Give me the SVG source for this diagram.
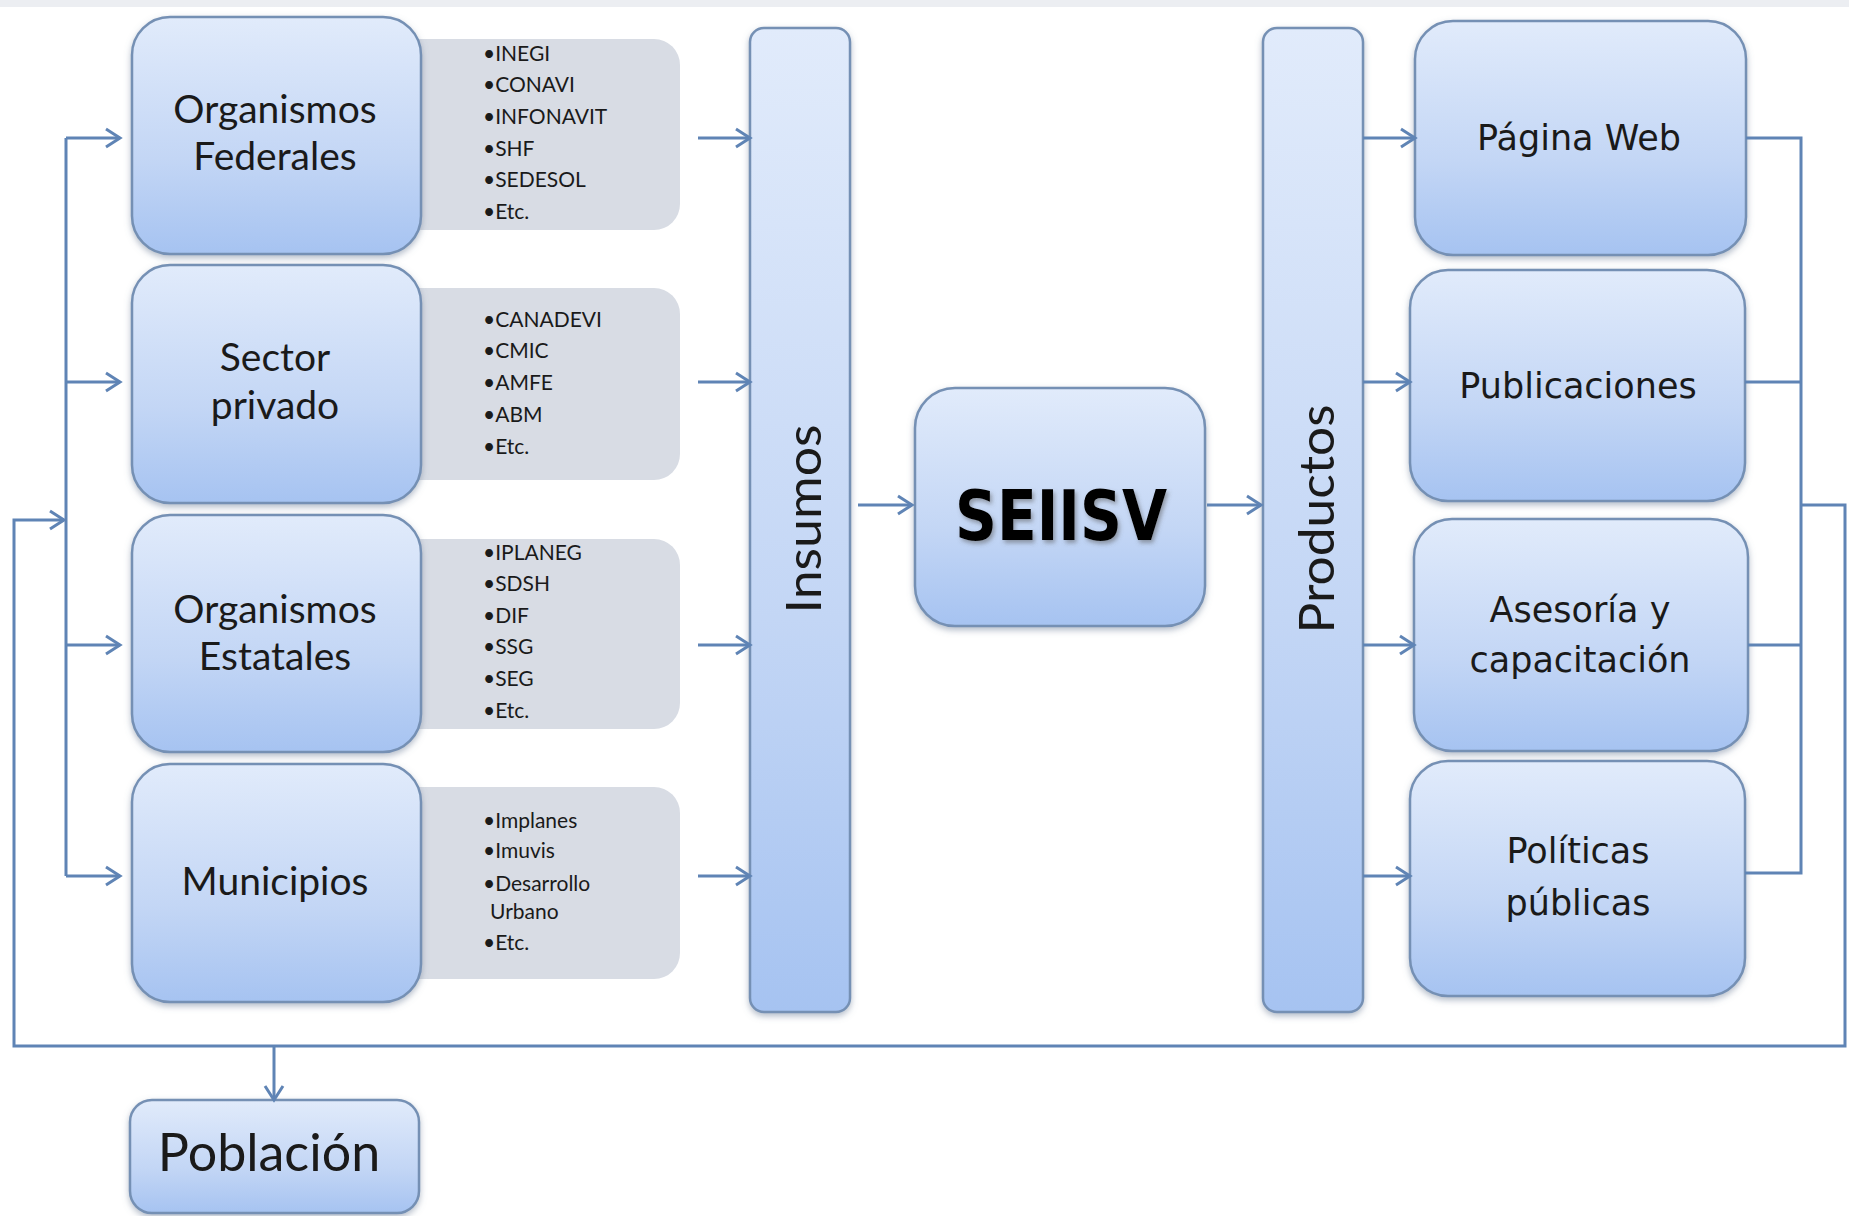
<svg xmlns="http://www.w3.org/2000/svg" width="1849" height="1216" viewBox="0 0 1849 1216">
<style>
.box{fill:url(#g);stroke:#7590b4;stroke-width:2.5;filter:url(#sh)}
.list{fill:#d8dce4}
.lbl{font-family:Lato,"Open Sans",sans-serif;font-size:39px;fill:#1a1a1a;text-anchor:middle}
.rl{font-family:"DejaVu Sans",Verdana,sans-serif;font-size:35px;fill:#1a1a1a;text-anchor:middle}
.li{font-family:Lato,"Liberation Sans",sans-serif;font-size:21px;fill:#1a1a1a}
.c{fill:none;stroke:#5f84b5;stroke-width:3}
.a{marker-end:url(#ah)}
</style>
<defs>
<linearGradient id="g" x1="0" y1="0" x2="0" y2="1">
<stop offset="0" stop-color="#e1ebfb"/>
<stop offset="0.6" stop-color="#c3d6f5"/>
<stop offset="1" stop-color="#a6c3f1"/>
</linearGradient>
<filter id="sh" x="-10%" y="-10%" width="120%" height="125%">
<feDropShadow dx="0" dy="3" stdDeviation="3" flood-color="#6b7c95" flood-opacity="0.5"/>
</filter>
<filter id="ts" x="-10%" y="-10%" width="120%" height="130%">
<feDropShadow dx="2" dy="3" stdDeviation="2" flood-color="#555" flood-opacity="0.5"/>
</filter>
<marker id="ah" markerUnits="userSpaceOnUse" markerWidth="22" markerHeight="26" refX="17" refY="12" orient="auto">
<path d="M3,3 L17,12 L3,21" fill="none" stroke="#5f84b5" stroke-width="3"/>
</marker>
</defs>
<rect x="0" y="0" width="1849" height="1216" fill="#ffffff"/>
<rect x="0" y="0" width="1849" height="7" fill="#eceef2"/>

<g id="list-federales"><rect class="list" x="380" y="39" width="300" height="191" rx="26"/>
<text class="li" x="483"><tspan y="61">•INEGI</tspan><tspan x="483" y="92">•CONAVI</tspan><tspan x="483" y="124">•INFONAVIT</tspan><tspan x="483" y="156">•SHF</tspan><tspan x="483" y="187">•SEDESOL</tspan><tspan x="483" y="219">•Etc.</tspan></text></g>
<g id="list-privado"><rect class="list" x="380" y="288" width="300" height="192" rx="26"/>
<text class="li" x="483"><tspan y="327">•CANADEVI</tspan><tspan x="483" y="358">•CMIC</tspan><tspan x="483" y="390">•AMFE</tspan><tspan x="483" y="422">•ABM</tspan><tspan x="483" y="454">•Etc.</tspan></text></g>
<g id="list-estatales"><rect class="list" x="380" y="539" width="300" height="190" rx="26"/>
<text class="li" x="483"><tspan y="560">•IPLANEG</tspan><tspan x="483" y="591">•SDSH</tspan><tspan x="483" y="623">•DIF</tspan><tspan x="483" y="654">•SSG</tspan><tspan x="483" y="686">•SEG</tspan><tspan x="483" y="718">•Etc.</tspan></text></g>
<g id="list-municipios"><rect class="list" x="380" y="787" width="300" height="192" rx="26"/>
<text class="li" x="483"><tspan y="828">•Implanes</tspan><tspan x="483" y="858">•Imuvis</tspan><tspan x="483" y="891">•Desarrollo</tspan><tspan x="490" y="919">Urbano</tspan><tspan x="483" y="950">•Etc.</tspan></text></g>

<g id="organismos-federales"><rect class="box" x="132" y="17" width="289" height="237" rx="38"/>
<text class="lbl" x="275"><tspan y="123">Organismos</tspan><tspan x="275" y="170">Federales</tspan></text></g>
<g id="sector-privado"><rect class="box" x="132" y="265" width="289" height="238" rx="38"/>
<text class="lbl" x="275"><tspan y="371">Sector</tspan><tspan x="275" y="419">privado</tspan></text></g>
<g id="organismos-estatales"><rect class="box" x="132" y="515" width="289" height="237" rx="38"/>
<text class="lbl" x="275"><tspan y="623">Organismos</tspan><tspan x="275" y="670">Estatales</tspan></text></g>
<g id="municipios"><rect class="box" x="132" y="764" width="289" height="238" rx="38"/>
<text class="lbl" x="275" y="895">Municipios</text></g>

<g id="insumos"><rect class="box" x="750" y="28" width="100" height="984" rx="14"/>
<text class="lbl" style="font-size:48px" textLength="189" lengthAdjust="spacingAndGlyphs" transform="translate(821,519) rotate(-90)">Insumos</text></g>
<g id="seiisv"><rect class="box" x="915" y="388" width="290" height="238" rx="40"/>
<text x="1061" y="540" text-anchor="middle" font-family="'DejaVu Sans',sans-serif" font-weight="bold" font-size="70" fill="#000" filter="url(#ts)" textLength="212" lengthAdjust="spacingAndGlyphs">SEIISV</text></g>
<g id="productos"><rect class="box" x="1263" y="28" width="100" height="984" rx="14"/>
<text class="lbl" style="font-size:48px" textLength="229" lengthAdjust="spacingAndGlyphs" transform="translate(1334,519) rotate(-90)">Productos</text></g>

<g id="pagina-web"><rect class="box" x="1415" y="21" width="331" height="234" rx="38"/>
<text class="rl" x="1579" y="150">Página Web</text></g>
<g id="publicaciones"><rect class="box" x="1410" y="270" width="335" height="231" rx="38"/>
<text class="rl" x="1578" y="398">Publicaciones</text></g>
<g id="asesoria"><rect class="box" x="1414" y="519" width="334" height="232" rx="38"/>
<text class="rl" x="1580"><tspan y="622">Asesoría y</tspan><tspan x="1580" y="672">capacitación</tspan></text></g>
<g id="politicas"><rect class="box" x="1410" y="761" width="335" height="235" rx="38"/>
<text class="rl" x="1578"><tspan y="863">Políticas</tspan><tspan x="1578" y="915">públicas</tspan></text></g>

<g id="poblacion"><rect class="box" x="130" y="1100" width="289" height="113" rx="22"/>
<text class="lbl" style="font-size:52px" x="269" y="1171">Población</text></g>

<g id="connectors">
<path class="c" d="M66,138 V876"/>
<path class="c a" d="M66,138 H120"/>
<path class="c a" d="M66,382 H120"/>
<path class="c a" d="M66,645 H120"/>
<path class="c a" d="M66,876 H120"/>
<path class="c a" d="M698,138 H750"/>
<path class="c a" d="M698,382 H750"/>
<path class="c a" d="M698,645 H750"/>
<path class="c a" d="M698,876 H750"/>
<path class="c a" d="M858,505 H912"/>
<path class="c a" d="M1207,505 H1261"/>
<path class="c a" d="M1363,138 H1415"/>
<path class="c a" d="M1363,382 H1410"/>
<path class="c a" d="M1363,645 H1414"/>
<path class="c a" d="M1363,876 H1410"/>
<path class="c" d="M1746,138 H1801 V873 H1745"/>
<path class="c" d="M1745,382 H1801"/>
<path class="c" d="M1748,645 H1801"/>
<path class="c a" d="M1801,505 H1845 V1046 H14 V520 H64"/>
<path class="c a" d="M274,1046 V1100"/>
</g>
</svg>
